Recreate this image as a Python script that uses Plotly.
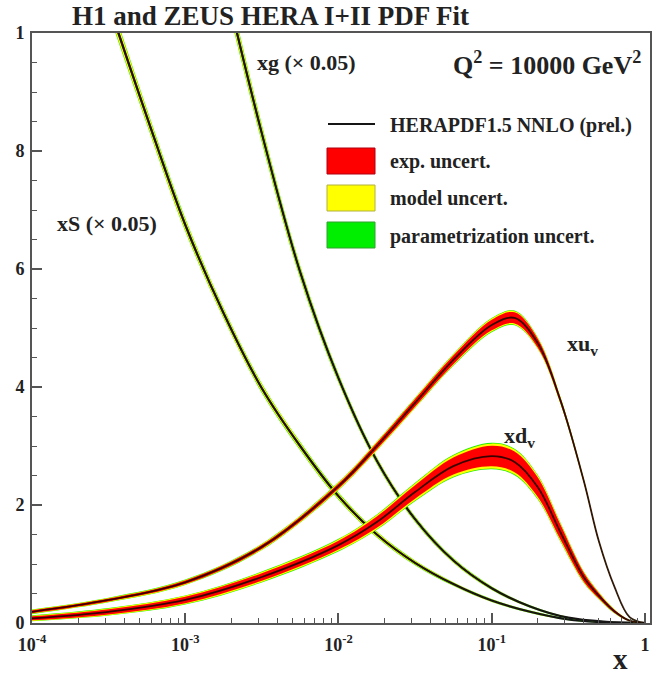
import plotly.graph_objects as go

# ---------------- data ----------------
x_val = [0.0001, 0.000316, 0.001, 0.00316, 0.01, 0.0178, 0.0316, 0.0562, 0.1,
         0.141, 0.2, 0.282, 0.398, 0.501, 0.631, 0.794, 1.0]
xuv = [0.019, 0.039, 0.069, 0.129, 0.232, 0.300, 0.373, 0.446, 0.505,
       0.517, 0.474, 0.376, 0.242, 0.138, 0.062, 0.010, 0.0]
xuv_exp = [0.0025, 0.0025, 0.003, 0.0035, 0.0045, 0.0055, 0.0065, 0.0075, 0.009,
           0.0095, 0.0075, 0.0045, 0.0025, 0.0015, 0.0008, 0.0003, 0.0]
xuv_mod = [0.0035, 0.0035, 0.004, 0.0047, 0.006, 0.007, 0.008, 0.009, 0.011,
           0.0115, 0.009, 0.0055, 0.0032, 0.002, 0.0011, 0.0004, 0.0]
xuv_par = [0.004, 0.004, 0.0046, 0.0054, 0.0068, 0.0078, 0.0088, 0.0099, 0.012,
           0.0125, 0.0098, 0.006, 0.0036, 0.0023, 0.0013, 0.0005, 0.0]

xdv = [0.008, 0.019, 0.039, 0.078, 0.132, 0.171, 0.222, 0.266, 0.283,
       0.273, 0.230, 0.153, 0.078, 0.046, 0.020, 0.004, 0.0]
xdv_exp = [0.0035, 0.0045, 0.0055, 0.0065, 0.0075, 0.0095, 0.0115, 0.0145, 0.0175,
           0.0175, 0.0165, 0.0125, 0.0075, 0.0045, 0.0025, 0.0008, 0.0]
xdv_mod = [0.0045, 0.0057, 0.007, 0.0083, 0.0097, 0.012, 0.0145, 0.018, 0.021,
           0.021, 0.0195, 0.015, 0.009, 0.0055, 0.0031, 0.001, 0.0]
xdv_par = [0.0051, 0.0064, 0.0078, 0.0092, 0.0107, 0.0131, 0.0157, 0.0193, 0.0225,
           0.0225, 0.0208, 0.016, 0.0097, 0.006, 0.0034, 0.0011, 0.0]

x_sea = [0.000316, 0.000562, 0.001, 0.00178, 0.00316, 0.00562, 0.01, 0.0178,
         0.0316, 0.0562, 0.1, 0.178, 0.316, 0.562, 1.0]
xS = [1.05, 0.858, 0.675, 0.525, 0.398, 0.300, 0.215, 0.150,
      0.102, 0.066, 0.038, 0.019, 0.006, 0.001, 0.0]          # xS x 0.05
xS_exp = [0.006, 0.005, 0.0042, 0.0035, 0.003, 0.0027, 0.0023, 0.0019,
          0.0015, 0.0012, 0.001, 0.0008, 0.0005, 0.0002, 0.0]
xS_mod = [0.013, 0.0108, 0.0092, 0.0075, 0.0066, 0.0058, 0.005, 0.0042,
          0.0033, 0.0025, 0.0021, 0.0017, 0.001, 0.0004, 0.0]
xS_par = [0.016, 0.013, 0.011, 0.009, 0.008, 0.007, 0.006, 0.005,
          0.004, 0.003, 0.0025, 0.002, 0.0012, 0.0005, 0.0]

x_glu = [0.002, 0.00316, 0.00562, 0.01, 0.0178, 0.0316, 0.0562, 0.1,
         0.178, 0.316, 0.562, 1.0]
xg = [1.04, 0.830, 0.595, 0.415, 0.275, 0.176, 0.106, 0.059,
      0.028, 0.009, 0.002, 0.0]                                 # xg x 0.05
xg_exp = [0.007, 0.0058, 0.0042, 0.003, 0.0023, 0.0019, 0.0015, 0.0012,
          0.0008, 0.0005, 0.0002, 0.0]
xg_mod = [0.0148, 0.0124, 0.0091, 0.0066, 0.005, 0.0041, 0.0033, 0.0025,
          0.0017, 0.001, 0.0004, 0.0]
xg_par = [0.018, 0.015, 0.011, 0.008, 0.006, 0.005, 0.004, 0.003,
          0.002, 0.0012, 0.0005, 0.0]

x_tickvals = [0.0001, 0.001, 0.01, 0.1, 1]
x_ticktext = ["10<sup>-4</sup>", "10<sup>-3</sup>", "10<sup>-2</sup>", "10<sup>-1</sup>", "1"]
y_tickvals = [0, 0.2, 0.4, 0.6, 0.8, 1.0]
y_ticktext = ["0", "2", "4", "6", "8", "1"]   # as visible (left part cropped in original)

legend_labels = ["HERAPDF1.5 NNLO (prel.)", "exp. uncert.", "model uncert.",
                 "parametrization uncert."]

# ---------------- styling ----------------
RED, YEL, GRN = "#ff0000", "#ffff00", "#22ee00"
LINE = "#151515"
VAL_LINE = "rgba(25,0,0,0.85)"
FONT = "Liberation Serif"
TXT = "#222222"

W, H = 658, 675
L, R, T, B = 32, 650, 33, 623


def px2x(p):
    return (p - L) / (R - L)


def py2y(p):
    return (B - p) / (B - T)


fig = go.Figure()


def band(xs, c, h, color, opacity=1.0):
    up = [a + b for a, b in zip(c, h)]
    lo = [a - b for a, b in zip(c, h)]
    fig.add_trace(go.Scatter(
        x=list(xs) + list(xs)[::-1], y=up + lo[::-1],
        mode="lines", fill="toself", fillcolor=color, opacity=opacity,
        line=dict(width=0, shape="spline", smoothing=1.0),
        hoverinfo="skip", showlegend=False))


def central(xs, c, color=LINE, width=2.0):
    fig.add_trace(go.Scatter(
        x=xs, y=c, mode="lines",
        line=dict(color=color, width=width, shape="spline", smoothing=1.0),
        hoverinfo="skip", showlegend=False))


# sea and gluon
for xs, c, e, m, p in [(x_sea, xS, xS_exp, xS_mod, xS_par),
                       (x_glu, xg, xg_exp, xg_mod, xg_par)]:
    band(xs, c, p, GRN)
    band(xs, c, m, YEL)
    band(xs, c, e, RED)
    central(xs, c, width=2.2)

# valence
for xs, c, e, m, p in [(x_val, xdv, xdv_exp, xdv_mod, xdv_par),
                       (x_val, xuv, xuv_exp, xuv_mod, xuv_par)]:
    band(xs, c, p, GRN)
    band(xs, c, m, YEL)
    band(xs, c, e, RED)
    central(xs, c, color=VAL_LINE, width=1.8)

ann = []


def text(s, xp, yp, size, xanchor="left"):
    ann.append(dict(text=s, x=px2x(xp), y=py2y(yp), xref="paper", yref="paper",
                    xanchor=xanchor, yanchor="middle", showarrow=False,
                    font=dict(family=FONT, size=size, color=TXT, weight="bold")))


text("H1 and ZEUS HERA I+II PDF Fit", 70, 16, 27)
text("Q<sup>2</sup> = 10000 GeV<sup>2</sup>", 643, 64, 26, xanchor="right")
text("xg (× 0.05)", 255, 62, 22)
text("xS (× 0.05)", 55, 223, 22)
text("xu<sub>v</sub>", 565, 345, 22)
text("xd<sub>v</sub>", 502, 437, 22)
text("x", 620, 659, 29, xanchor="center")

# legend (drawn manually)
leg_y = [126, 161, 198, 236]
for lab, yp in zip(legend_labels, leg_y):
    text(lab, 388, yp, 20)

shapes = [
    dict(type="line", xref="paper", yref="paper", x0=px2x(328), x1=px2x(375),
         y0=py2y(124), y1=py2y(124), line=dict(color=LINE, width=2)),
    dict(type="rect", xref="paper", yref="paper", x0=px2x(327), x1=px2x(375),
         y0=py2y(174), y1=py2y(148), fillcolor=RED, line=dict(color="#b00010", width=1)),
    dict(type="rect", xref="paper", yref="paper", x0=px2x(327), x1=px2x(375),
         y0=py2y(211), y1=py2y(185), fillcolor=YEL, line=dict(color="#b0b040", width=1)),
    dict(type="rect", xref="paper", yref="paper", x0=px2x(327), x1=px2x(375),
         y0=py2y(248), y1=py2y(222), fillcolor="#00ee00", line=dict(color="#30a030", width=1)),
]

axis_common = dict(showgrid=False, zeroline=False, showline=True, mirror=True,
                   linecolor="#555555", linewidth=1.8, ticks="inside",
                   tickcolor="#555555", tickwidth=1.5,
                   tickfont=dict(family=FONT, size=18, color=TXT, weight="bold"))

fig.update_layout(
    width=W, height=H, autosize=False,
    margin=dict(l=L, r=W - R, t=T, b=H - B, pad=0),
    paper_bgcolor="white", plot_bgcolor="white",
    showlegend=False,
    annotations=ann, shapes=shapes,
    xaxis=dict(type="log", range=[-4, 0.033], tickmode="array",
               tickvals=x_tickvals, ticktext=x_ticktext, ticklen=10,
               ticklabelstandoff=4,
               minor=dict(ticks="inside", ticklen=5, dtick="D1",
                          tickcolor="#555555", tickwidth=1.2, showgrid=False),
               automargin=False, **axis_common),
    yaxis=dict(range=[0, 1], tickmode="array", tickvals=y_tickvals,
               ticktext=y_ticktext, ticklen=10, ticklabelstandoff=2,
               minor=dict(ticks="inside", ticklen=5, dtick=0.05,
                          tickcolor="#555555", tickwidth=1.2, showgrid=False),
               automargin=False, **axis_common),
)

fig.write_html("out.html")
